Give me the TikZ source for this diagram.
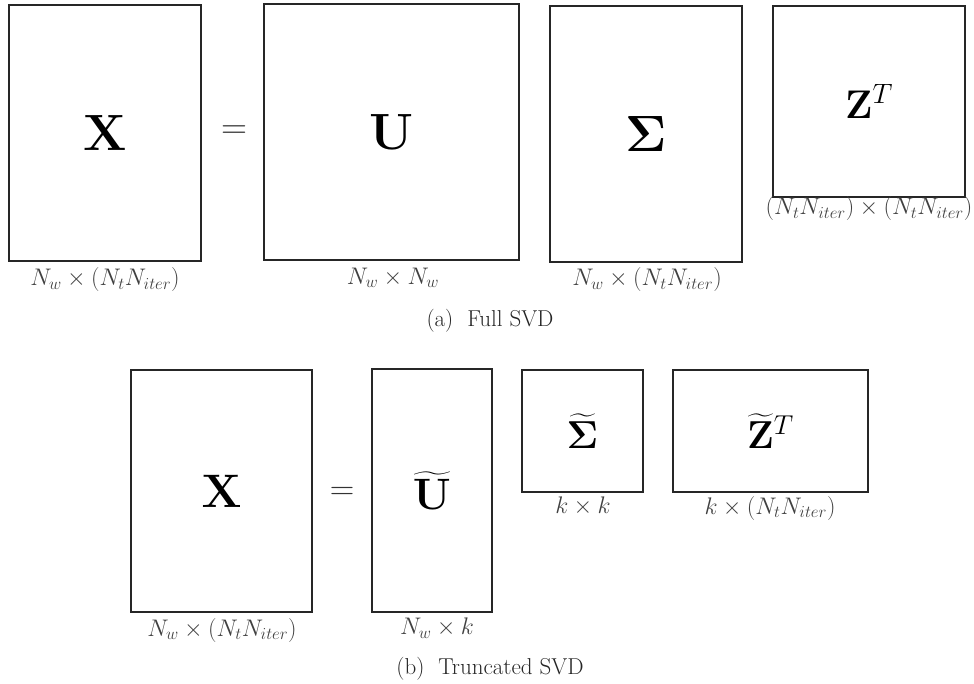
\RequirePackage{fix-cm}
\documentclass[tikz,border=0pt]{standalone}
\usepackage{amsmath,bm}
\begin{document}
\begin{tikzpicture}[x=1pt,y=-1pt,
  mbox/.style={draw=black!85,line width=1.8pt,inner sep=0pt},
  dimlabel/.style={inner sep=0pt,font=\fontsize{24}{28}\selectfont,text=black!75},
  caption/.style={inner sep=0pt,font=\fontsize{23}{27}\selectfont,text=black!85}]
\useasboundingbox (0,0) rectangle (974,684);
% ---- (a) Full SVD
\node[mbox,minimum width=192pt,minimum height=256pt,font=\fontsize{51}{60}\selectfont] (X) at (105,133) {$\mathbf{X}$};
\node[inner sep=0pt,font=\fontsize{36}{40}\selectfont,text=black!80] (eqa) at (234,132) {$=$};
\node[mbox,minimum width=255pt,minimum height=256pt,font=\fontsize{51}{60}\selectfont] (U) at (391.5,132) {$\mathbf{U}$};
\node[mbox,minimum width=192pt,minimum height=256pt,font=\fontsize{51}{60}\selectfont] (S) at (646,134) {$\boldsymbol{\Sigma}$};
\node[mbox,minimum width=192pt,minimum height=191pt,font=\fontsize{40}{48}\selectfont] (Z) at (869,101.5) {$\mathbf{Z}^T$};
\node[dimlabel] (Xl) at (105,280) {$N_w \times (N_tN_{iter})$};
\node[dimlabel] (Ul) at (393,278) {$N_w \times N_w$};
\node[dimlabel] (Sl) at (647,280) {$N_w \times (N_tN_{iter})$};
\node[dimlabel] (Zl) at (869,209) {$(N_tN_{iter}) \times (N_tN_{iter})$};
\node[caption] (capa) at (490,321) {(a)\ \ Full SVD};
% ---- (b) Truncated SVD
\node[mbox,minimum width=181pt,minimum height=242pt,font=\fontsize{47}{56}\selectfont] (Xt) at (221.5,491) {$\mathbf{X}$};
\node[inner sep=0pt,font=\fontsize{34}{40}\selectfont,text=black!80] (eqb) at (342,493) {$=$};
\node[mbox,minimum width=120pt,minimum height=243pt,font=\fontsize{44}{52}\selectfont] (Ut) at (432,490.5) {$\widetilde{\mathbf{U}}$};
\node[mbox,minimum width=121pt,minimum height=122pt,font=\fontsize{39}{46}\selectfont] (St) at (582.5,431) {$\widetilde{\boldsymbol{\Sigma}}$};
\node[mbox,minimum width=195pt,minimum height=122pt,font=\fontsize{39}{46}\selectfont] (Zt) at (770.5,431) {$\widetilde{\mathbf{Z}}^T$};
\node[dimlabel] (Xtl) at (222,630) {$N_w \times (N_tN_{iter})$};
\node[dimlabel] (Utl) at (437,628) {$N_w \times k$};
\node[dimlabel] (Stl) at (583,506) {$k \times k$};
\node[dimlabel] (Ztl) at (770,508) {$k \times (N_tN_{iter})$};
\node[caption] (capb) at (490,669) {(b)\ \ Truncated SVD};
\end{tikzpicture}
\end{document}
